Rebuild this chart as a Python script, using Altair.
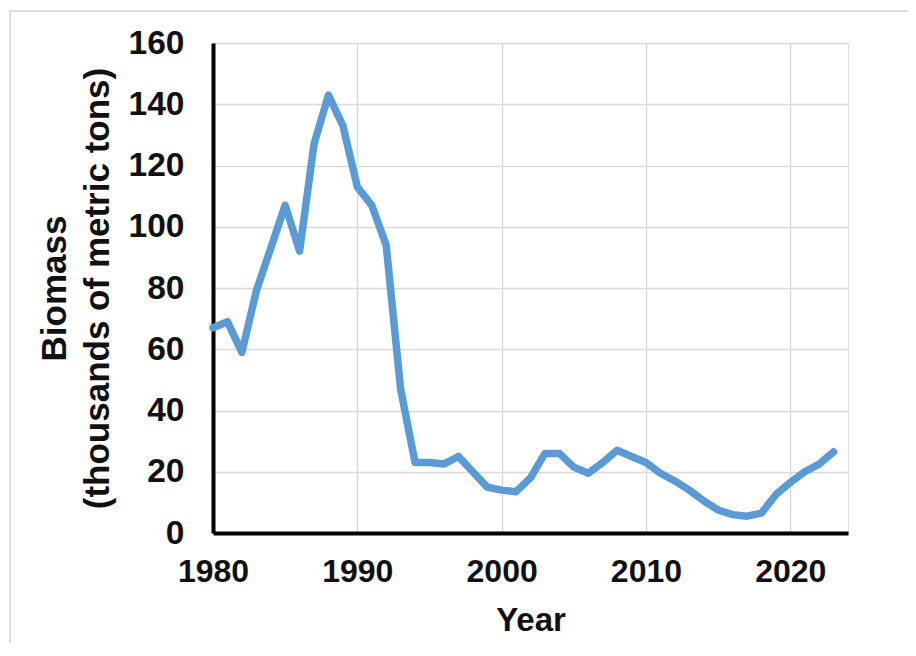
import altair as alt
import pandas as pd

years = list(range(1980, 2024))
biomass = [67, 69, 59, 79, 93, 107, 92, 127, 143, 133,
           113, 107, 94, 47, 23, 23, 22.5, 25, 20, 15,
           14, 13.5, 18, 26, 26, 21.5, 19.5, 23, 27, 25,
           23, 19.5, 17, 14, 10.5, 7.5, 6, 5.5, 6.5, 12.5,
           16.5, 20, 22.5, 26.5]
x_ticks = [1980, 1990, 2000, 2010, 2020]
y_ticks = [0, 20, 40, 60, 80, 100, 120, 140, 160]

df = pd.DataFrame({"Year": years, "Biomass": biomass})

FONT = "Liberation Sans"

line = alt.Chart(df).mark_line(color="#5B9BD5", strokeWidth=7.5, strokeJoin="round", strokeCap="round").encode(
    x=alt.X("Year:Q",
            scale=alt.Scale(domain=[1980, 2024], nice=False, zero=False),
            axis=alt.Axis(values=x_ticks, format="d", title="Year",
                          labelFontSize=32, labelFont=FONT, labelFontWeight="bold", labelColor="#111",
                          labelPadding=23, ticks=False, tickSize=0,
                          domainColor="#000", domainWidth=4,
                          gridColor="#d9d9d9", gridWidth=1.5,
                          titleFontSize=33, titleFont=FONT, titleFontWeight="bold", titleColor="#111",
                          titleY=71, labelFlush=False)),
    y=alt.Y("Biomass:Q",
            scale=alt.Scale(domain=[0, 160], nice=False),
            axis=alt.Axis(values=y_ticks, title=["Biomass", "(thousands of metric tons)"],
                          labelFontSize=33.5, labelFont=FONT, labelFontWeight="bold", labelColor="#111",
                          labelPadding=29, ticks=False, tickSize=0, labelBaseline="middle",
                          domainColor="#000", domainWidth=4,
                          gridColor="#d9d9d9", gridWidth=1.5,
                          titleFontSize=35, titleFont=FONT, titleFontWeight="bold", titleColor="#111",
                          titleLineHeight=43, titleX=-141, titleY=245, titleAngle=-90,
                          labelFlush=False)),
)

border = alt.Chart(pd.DataFrame({"a": [0]})).mark_rect(
    fill=None, stroke="#dddddd", strokeWidth=2, clip=False
).encode(
    x=alt.value(-203), x2=alt.value(697),
    y=alt.value(-32), y2=alt.value(640),
)

chart = alt.layer(border, line).properties(
    width=635, height=490,
    autosize=alt.AutoSizeParams(type="none"),
    padding={"left": 205, "top": 35, "right": 60, "bottom": 110},
).configure_view(stroke=None).configure(background="white")

chart.save("out.html", embed_options={"renderer": "svg", "actions": False})
